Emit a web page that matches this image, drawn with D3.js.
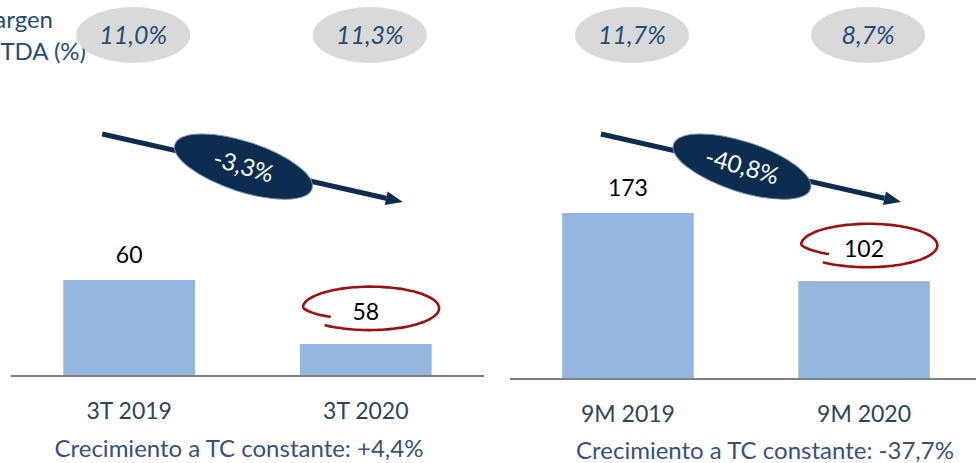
<!DOCTYPE html>
<html>
<head>
<meta charset="utf-8">
<script src="https://cdn.jsdelivr.net/npm/d3@7"></script>
<style>
  html, body { margin: 0; padding: 0; background: #fff; }
  svg { display: block; font-family: Lato, "Open Sans", sans-serif; }
</style>
</head>
<body>
<div id="chart"></div>
<script>
// data
var quarterCats = ["3T 2019", "3T 2020"];
var quarterValues = [60, 58];
var quarterMargins = ["11,0%", "11,3%"];
var quarterChange = "-3,3%";
var quarterNote = "Crecimiento a TC constante: +4,4%";

var ytdCats = ["9M 2019", "9M 2020"];
var ytdValues = [173, 102];
var ytdMargins = ["11,7%", "8,7%"];
var ytdChange = "-40,8%";
var ytdNote = "Crecimiento a TC constante: -37,7%";

var marginTitle = ["Margen", "EBITDA (%)"];

var W = 976, H = 463;
var svg = d3.select("#chart").append("svg")
    .attr("width", W)
    .attr("height", H);

var navy = "#0c2d4e";
var textBlue = "#1f4e79";

// title on the left, partly cut by the edge like in the source slide
svg.append("text")
    .attr("x", 53).attr("y", 28)
    .attr("text-anchor", "end")
    .style("font-size", "24px")
    .style("fill", textBlue)
    .text(marginTitle[0]);
svg.append("text")
    .attr("x", 86).attr("y", 60)
    .attr("text-anchor", "end")
    .style("font-size", "24px")
    .style("fill", textBlue)
    .text(marginTitle[1]);

// red hand drawn loop around a label
function swirl(cx, cy, rx, ry) {
    var pts = [];
    var a0 = 0.8 * Math.PI, a1 = 2.72 * Math.PI;
    for (var i = 0; i <= 80; i++) {
        var a = a0 + (a1 - a0) * i / 80;
        var s = a < Math.PI ? 0.72 + 0.28 * (a - a0) / (Math.PI - a0)
                            : 1 + 0.06 * (a - Math.PI) / (a1 - Math.PI);
        pts.push([cx + rx * s * Math.cos(a), cy + ry * s * Math.sin(a)]);
    }
    return d3.line().curve(d3.curveBasis)(pts);
}

function panel(opts) {
    var g = svg.append("g");
    var x = d3.scaleBand()
        .domain(opts.cats)
        .range(opts.xRange)
        .paddingInner(0.443)
        .paddingOuter(0.2);
    var y = d3.scaleLinear()
        .domain(opts.yDomain)
        .range([opts.base, opts.top]);
    var cx = function(d) { return x(d) + x.bandwidth() / 2; };

    // bars
    g.selectAll("rect.bar")
        .data(opts.values)
        .enter().append("rect")
        .attr("class", "bar")
        .attr("x", function(d, i) { return x(opts.cats[i]); })
        .attr("width", x.bandwidth())
        .attr("y", function(d) { return y(d); })
        .attr("height", function(d) { return opts.base - y(d); })
        .style("fill", "#93b6df");

    // baseline
    g.append("line")
        .attr("x1", opts.lineRange[0]).attr("x2", opts.lineRange[1])
        .attr("y1", opts.base).attr("y2", opts.base)
        .style("stroke", "#808080")
        .style("stroke-width", 2);

    // category axis
    var ax = g.append("g")
        .attr("transform", "translate(0," + opts.base + ")")
        .call(d3.axisBottom(x).tickSize(0).tickPadding(27));
    ax.select(".domain").remove();
    ax.selectAll("text")
        .style("font-family", "Lato, sans-serif")
        .style("font-size", "23px")
        .style("fill", "#2a4561");

    // value labels
    g.selectAll("text.val")
        .data(opts.values)
        .enter().append("text")
        .attr("class", "val")
        .attr("x", function(d, i) { return cx(opts.cats[i]); })
        .attr("y", function(d, i) { return y(d) - (i === 1 ? 24 : 17); })
        .attr("text-anchor", "middle")
        .style("font-size", "23px")
        .style("fill", "#000")
        .text(function(d) { return d; });

    // loop around the latest value
    var last = opts.values[1];
    g.append("path")
        .attr("d", swirl(cx(opts.cats[1]) + 4, y(last) - 24 - 12, 67, 21))
        .style("fill", "none")
        .style("stroke", "#a00f0f")
        .style("stroke-width", 2.6);

    // margin bubbles
    opts.margins.forEach(function(m, i) {
        var mx = cx(opts.cats[i]) + 4;
        g.append("ellipse")
            .attr("cx", mx).attr("cy", 35)
            .attr("rx", 57).attr("ry", 28)
            .style("fill", "#d9d9d9");
        g.append("text")
            .attr("x", mx).attr("y", 44)
            .attr("text-anchor", "middle")
            .style("font-size", "25px")
            .style("font-style", "italic")
            .style("fill", textBlue)
            .text(m);
    });

    // trend arrow
    var x1 = cx(opts.cats[0]) - 27, y1 = 134;
    var x2 = cx(opts.cats[1]) + 37, y2 = 202;
    var ang = Math.atan2(y2 - y1, x2 - x1);
    var hl = 17, hw = 7;
    g.append("line")
        .attr("x1", x1).attr("y1", y1)
        .attr("x2", x2 - hl * Math.cos(ang)).attr("y2", y2 - hl * Math.sin(ang))
        .style("stroke", navy)
        .style("stroke-width", 5);
    var bx = x2 - hl * Math.cos(ang), by = y2 - hl * Math.sin(ang);
    g.append("path")
        .attr("d", "M" + x2 + "," + y2 +
            "L" + (bx + hw * Math.sin(ang)) + "," + (by - hw * Math.cos(ang)) +
            "L" + (bx - hw * Math.sin(ang)) + "," + (by + hw * Math.cos(ang)) + "Z")
        .style("fill", navy);

    var ex = x1 + (x2 - x1) * 0.47, ey = y1 + (y2 - y1) * 0.48;
    var badge = g.append("g")
        .attr("transform", "translate(" + ex + "," + ey + ") rotate(18)");
    badge.append("ellipse")
        .attr("rx", 72).attr("ry", 25)
        .style("fill", navy)
        .style("stroke", "#6f8fb3")
        .style("stroke-width", 1);
    badge.append("text")
        .attr("y", 8)
        .attr("text-anchor", "middle")
        .attr("transform", "rotate(-2)")
        .style("font-size", "24px")
        .style("fill", "#fff")
        .text(opts.change);

    // note under the panel
    g.append("text")
        .attr("x", opts.noteX).attr("y", opts.noteY)
        .attr("text-anchor", "middle")
        .style("font-size", "24px")
        .style("fill", "#34527f")
        .text(opts.note);
}

panel({
    cats: quarterCats, values: quarterValues, margins: quarterMargins,
    change: quarterChange, note: quarterNote,
    xRange: [16, 479], lineRange: [11, 484],
    yDomain: [57, 60], base: 376, top: 280,
    noteX: 239, noteY: 457
});

panel({
    cats: ytdCats, values: ytdValues, margins: ytdMargins,
    change: ytdChange, note: ytdNote,
    xRange: [515, 977], lineRange: [510, 976],
    yDomain: [0, 173], base: 379, top: 213,
    noteX: 765, noteY: 459
});
</script>
</body>
</html>
